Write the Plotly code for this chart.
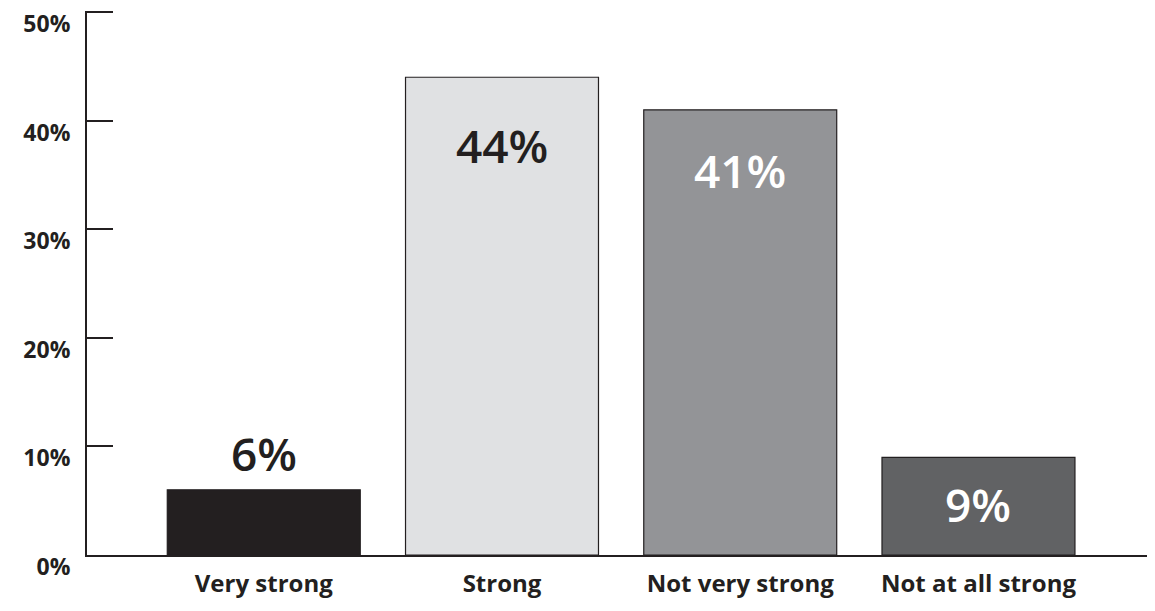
import plotly.graph_objects as go

categories = ["Very strong", "Strong", "Not very strong", "Not at all strong"]
values = [6, 44, 41, 9]
labels = ["6%", "44%", "41%", "9%"]
bar_colors = ["#231f20", "#e0e1e3", "#939497", "#616264"]
label_colors = ["#231f20", "#231f20", "#ffffff", "#ffffff"]
label_shifts = [37, -68, -60, -47]
tick_vals = [0, 10, 20, 30, 40, 50]
tick_text = ["0%", "10%", "20%", "30%", "40%", "50%"]

FONT = "Open Sans"
fig = go.Figure()
fig.add_trace(go.Bar(
    x=categories, y=values,
    marker=dict(color=bar_colors, line=dict(color="#231f20", width=1.2)),
    width=0.81, hoverinfo="skip",
))

for c, v, t, col, s in zip(categories, values, labels, label_colors, label_shifts):
    fig.add_annotation(x=c, y=v, text=t, showarrow=False, yshift=s,
                       font=dict(family=FONT, size=46, color=col, weight=600),
                       xanchor="center", yanchor="middle")

fig.update_layout(
    width=1147, height=603,
    margin=dict(l=79, r=5, t=3, b=56),
    paper_bgcolor="white", plot_bgcolor="white",
    showlegend=False,
    xaxis=dict(
        range=[-0.742, 3.72], showgrid=False, zeroline=False, automargin=False,
        showline=True, linecolor="#231f20", linewidth=2,
        ticks="", tickfont=dict(family=FONT, size=24, color="#231f20", weight="bold"),
        ticklabelstandoff=6,
    ),
    yaxis=dict(
        range=[0, 50.1], showgrid=False, zeroline=False, automargin=False,
        showline=True, linecolor="#231f20", linewidth=2,
        tickvals=tick_vals, ticktext=tick_text,
        ticks="inside", ticklen=26, tickwidth=2, tickcolor="#231f20",
        tickfont=dict(family=FONT, size=23, color="#231f20", weight="bold"),
        ticklabelshift=12, ticklabelstandoff=10, ticklabeloverflow="allow",
    ),
)

fig.write_html("out.html")
